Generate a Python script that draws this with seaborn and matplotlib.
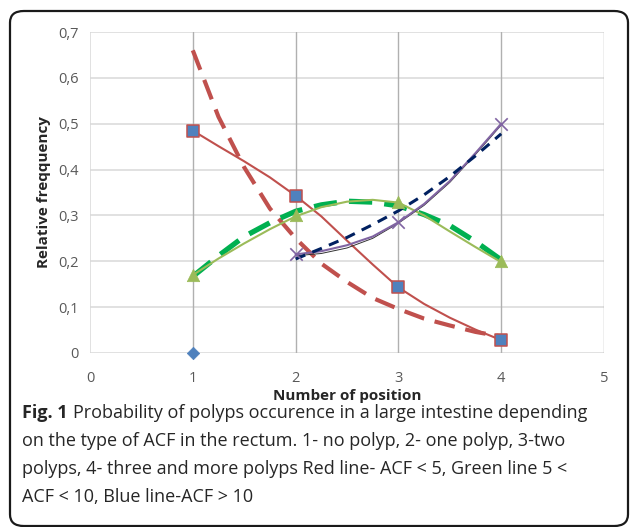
import numpy as np
import pandas as pd
import seaborn as sns
import matplotlib.pyplot as plt
from matplotlib.patches import FancyBboxPatch

# positions 1..4 and the measured points
pos = [1, 2, 3, 4]
red_pts = [0.485, 0.343, 0.143, 0.028]     # ACF < 5
green_pts = [0.17, 0.30, 0.33, 0.20]       # 5 < ACF < 10
purple_pos = [2, 3, 4]
purple_pts = [0.215, 0.285, 0.50]          # ACF > 10
diamond_pos = [1]
diamond_pts = [0.0]

# curves at quarter steps
xs = [1, 1.25, 1.5, 1.75, 2, 2.25, 2.5, 2.75, 3, 3.25, 3.5, 3.75, 4]
red_smooth = [0.485, 0.451, 0.418, 0.383, 0.343, 0.298, 0.245, 0.193, 0.143, 0.107, 0.077, 0.051, 0.028]
red_trend = [0.66, 0.515, 0.405, 0.315, 0.25, 0.195, 0.155, 0.12, 0.096, 0.075, 0.06, 0.046, 0.036]
green_smooth = [0.17, 0.206, 0.239, 0.27, 0.298, 0.318, 0.33, 0.334, 0.328, 0.3, 0.265, 0.231, 0.198]
green_trend = [0.167, 0.212, 0.254, 0.284, 0.309, 0.323, 0.331, 0.329, 0.321, 0.302, 0.278, 0.243, 0.203]
xs_b = [2, 2.25, 2.5, 2.75, 3, 3.25, 3.5, 3.75, 4]
purple_smooth = [0.215, 0.222, 0.235, 0.254, 0.285, 0.325, 0.375, 0.436, 0.50]
black_thin = [0.212, 0.217, 0.229, 0.25, 0.283, 0.322, 0.372, 0.433, 0.497]
navy_trend = [0.205, 0.228, 0.252, 0.28, 0.31, 0.345, 0.385, 0.43, 0.478]

y_ticks = [0, 0.1, 0.2, 0.3, 0.4, 0.5, 0.6, 0.7]
y_labels = ['0', '0,1', '0,2', '0,3', '0,4', '0,5', '0,6', '0,7']
x_ticks = [0, 1, 2, 3, 4, 5]

sns.set_style('white')
plt.rcParams['font.family'] = ['Open Sans', 'DejaVu Sans']

fig = plt.figure(figsize=(6.3, 5.27), dpi=100)
ax = fig.add_axes([90 / 630, 1 - 353 / 527, 514 / 630, 321 / 527])

# rounded frame around the figure
frame = FancyBboxPatch((10 / 630, 1 / 527), 618 / 630, 515 / 527,
                       boxstyle='round,pad=0,rounding_size=0.022',
                       transform=fig.transFigure, fill=False,
                       edgecolor='#1a1a1a', lw=1.6, clip_on=False)
fig.patches.append(frame)

# grid
for yv in y_ticks:
    ax.axhline(yv, color='#d9d9d9', lw=1.1, zorder=0)
for xv in x_ticks[1:]:
    ax.axvline(xv, color='#b0b0b0', lw=1.0, zorder=0)
ax.axvline(0, color='#d9d9d9', lw=1.1, zorder=0)

red = '#C0504D'
lgreen = '#9BBB59'
purple = '#8064A2'
blue = '#4F81BD'

sns.lineplot(x=xs, y=red_trend, color=red, lw=3.0, linestyle=(0, (5, 2.6)),
             estimator=None, sort=False, ax=ax, zorder=2)
sns.lineplot(x=xs, y=red_smooth, color=red, lw=1.5, estimator=None, sort=False, ax=ax, zorder=3)
sns.lineplot(x=xs, y=green_trend, color='#00B050', lw=3.8, linestyle=(0, (4.4, 2.3)),
             estimator=None, sort=False, ax=ax, zorder=2)
sns.lineplot(x=xs, y=green_smooth, color=lgreen, lw=1.5, estimator=None, sort=False, ax=ax, zorder=3)
sns.lineplot(x=xs_b, y=black_thin, color='#333333', lw=0.7, estimator=None, sort=False, ax=ax, zorder=3)
sns.lineplot(x=xs_b, y=purple_smooth, color=purple, lw=1.5, estimator=None, sort=False, ax=ax, zorder=3)
sns.lineplot(x=xs_b, y=navy_trend, color='#002060', lw=2.2, linestyle=(0, (3.4, 2.5)),
             estimator=None, sort=False, ax=ax, zorder=4)

sns.scatterplot(x=pos, y=red_pts, marker='s', s=64, color=blue, edgecolor=red,
                linewidth=1.1, ax=ax, zorder=5)
sns.scatterplot(x=pos, y=green_pts, marker='^', s=80, color=lgreen, edgecolor=lgreen,
                linewidth=0.5, ax=ax, zorder=5)
sns.scatterplot(x=purple_pos, y=purple_pts, marker='x', s=80, color=purple,
                linewidth=1.2, ax=ax, zorder=5)
sns.scatterplot(x=diamond_pos, y=diamond_pts, marker='D', s=40, color=blue,
                edgecolor=blue, ax=ax, zorder=5)
ax.collections[-1].set_clip_on(False)

ax.set_xlim(0, 5)
ax.set_ylim(0, 0.7)
ax.set_xticks(x_ticks)
ax.set_xticklabels([str(v) for v in x_ticks])
ax.set_yticks(y_ticks)
ax.set_yticklabels(y_labels)
ax.tick_params(axis='both', colors='#595959', labelsize=10.5, length=0)
ax.tick_params(axis='y', length=5, color='#d9d9d9', width=1, pad=3)
ax.tick_params(axis='x', pad=13)
for s in ax.spines.values():
    s.set_visible(False)

ax.set_xlabel('Number of position', fontsize=11, fontweight='bold', labelpad=2)
ax.set_ylabel('Relative freqquency', fontsize=11, fontweight='bold', labelpad=5)

# caption
fsz = 13
t = fig.text(22 / 630, 1 - 418 / 527, 'Fig. 1', fontsize=fsz, fontweight='bold', va='baseline')
fig.canvas.draw()
bb = t.get_window_extent()
fig.text(bb.x1 / 630 + 0.008, 1 - 418 / 527,
         'Probability of polyps occurence in a large intestine depending',
         fontsize=fsz, va='baseline')
rest = ['on the type of ACF in the rectum. 1- no polyp, 2- one polyp, 3-two',
        'polyps, 4- three and more polyps Red line- ACF < 5, Green line 5 <',
        'ACF < 10, Blue line-ACF > 10']
for i, line in enumerate(rest):
    fig.text(22 / 630, 1 - (446 + 28 * i) / 527, line, fontsize=fsz, va='baseline')

plt.savefig('out.png', dpi=100)
